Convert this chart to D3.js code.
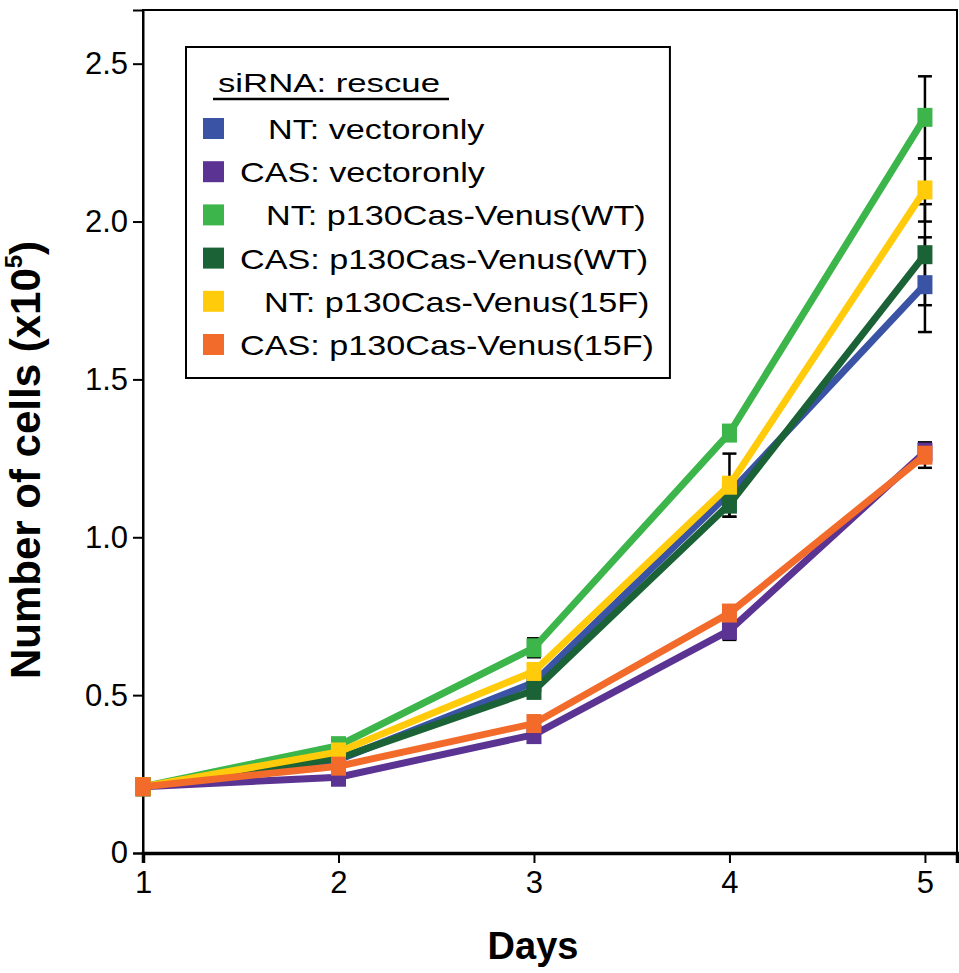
<!DOCTYPE html>
<html>
<head>
<meta charset="utf-8">
<script src="https://cdn.jsdelivr.net/npm/d3@7"></script>
<style>
  body { margin: 0; background: #fff; }
  text { font-family: "Liberation Sans", Arial, Helvetica, sans-serif; }
</style>
</head>
<body>
<svg id="chart" width="959" height="973"></svg>
<script>
// data
var days = [1, 2, 3, 4, 5];
var seriesNames = ["NT: vectoronly", "CAS: vectoronly", "NT: p130Cas-Venus(WT)",
                   "CAS: p130Cas-Venus(WT)", "NT: p130Cas-Venus(15F)", "CAS: p130Cas-Venus(15F)"];
var seriesColors = ["#3a53a4", "#5b3393", "#3cb54b", "#1b6336", "#ffcb0a", "#f26b2b"];
var ntVector   = [0.21, 0.295, 0.54, 1.14, 1.80];
var casVector  = [0.21, 0.24, 0.375, 0.705, 1.27];
var ntWT       = [0.21, 0.34, 0.65, 1.33, 2.33];
var casWT      = [0.21, 0.30, 0.515, 1.105, 1.895];
var nt15F      = [0.21, 0.32, 0.575, 1.165, 2.10];
var cas15F     = [0.21, 0.275, 0.41, 0.76, 1.26];
var errNtVector  = [0, 0, 0, 0, 0.15];
var errCasVector = [0, 0, 0, 0.03, 0.03];
var errNtWT      = [0, 0, 0.03, 0, 0.13];
var errCasWT     = [0, 0, 0, 0.04, 0.16];
var errNt15F     = [0, 0, 0, 0.10, 0.10];
var errCas15F    = [0, 0, 0, 0, 0.04];
var yTicks = [0, 0.5, 1.0, 1.5, 2.0, 2.5];
var yTickLabels = ["0", "0.5", "1.0", "1.5", "2.0", "2.5"];

var allValues = [ntVector, casVector, ntWT, casWT, nt15F, cas15F];
var allErrors = [errNtVector, errCasVector, errNtWT, errCasWT, errNt15F, errCas15F];

var series = seriesNames.map(function(name, i){
    return {
        name: name,
        color: seriesColors[i],
        points: days.map(function(d, j){ return {day: d, v: allValues[i][j], e: allErrors[i][j]}; })
    };
});

var svg = d3.select("#chart");
// note: don't call these top/left, window.top is read-only
var plotL = 143, plotR = 957, plotT = 10, plotB = 853;

var x = d3.scaleLinear().domain([1, 5.164]).range([plotL, plotR]);
var y = d3.scaleLinear().domain([0, 2.67]).range([plotB, plotT]);

//frame
svg.append("rect")
    .attr("x", plotL).attr("y", plotT)
    .attr("width", plotR - plotL).attr("height", plotB - plotT)
    .attr("fill", "none").attr("stroke", "#000").attr("stroke-width", 2);

//axes
var yAxis = d3.axisLeft(y).tickValues(yTicks)
    .tickFormat(function(d, i){ return yTickLabels[i]; })
    .tickSize(10).tickPadding(5);
var gy = svg.append("g").attr("transform", "translate(" + plotL + ",0)").call(yAxis);
gy.select(".domain").attr("stroke-width", 2);
gy.selectAll(".tick line").attr("stroke-width", 2);
gy.selectAll("text").attr("font-size", 31).attr("fill", "#000");

var xAxis = d3.axisBottom(x).tickValues(days).tickFormat(d3.format("d"))
    .tickSize(10).tickPadding(8);
var gx = svg.append("g").attr("transform", "translate(0," + plotB + ")").call(xAxis);
gx.select(".domain").attr("stroke-width", 3.5);
gx.selectAll(".tick line").attr("stroke-width", 2);
gx.selectAll("text").attr("font-size", 31).attr("fill", "#000");

//axis titles
svg.append("text")
    .attr("x", 533).attr("y", 959)
    .attr("text-anchor", "middle")
    .attr("font-size", 38).attr("font-weight", "bold")
    .text("Days");

var ylab = svg.append("text")
    .attr("transform", "translate(40,460) rotate(-90)")
    .attr("text-anchor", "middle")
    .attr("font-size", 42).attr("font-weight", "bold");
ylab.append("tspan").text("Number of cells (x10");
ylab.append("tspan").attr("font-size", 24).attr("dy", -18).text("5");
ylab.append("tspan").attr("dy", 18).text(")");

//error bars first, behind everything
var capW = 7;
series.forEach(function(s){
    var withErr = s.points.filter(function(p){ return p.e > 0; });
    var g = svg.append("g").attr("stroke", "#000").attr("stroke-width", 2.5);
    withErr.forEach(function(p){
        var cx = x(p.day);
        g.append("line").attr("x1", cx).attr("x2", cx)
            .attr("y1", y(p.v + p.e)).attr("y2", y(p.v - p.e));
        [p.v + p.e, p.v - p.e].forEach(function(v){
            g.append("line").attr("x1", cx - capW).attr("x2", cx + capW)
                .attr("y1", y(v)).attr("y2", y(v));
        });
    });
});

//lines and markers
var line = d3.line().x(function(d){ return x(d.day); }).y(function(d){ return y(d.v); });
var mw = 15, mh = 19;
series.forEach(function(s){
    svg.append("path")
        .datum(s.points)
        .attr("d", line)
        .attr("fill", "none")
        .attr("stroke", s.color)
        .attr("stroke-width", 7);
    svg.append("g").selectAll("rect")
        .data(s.points)
        .enter().append("rect")
        .attr("x", function(d){ return x(d.day) - mw/2; })
        .attr("y", function(d){ return y(d.v) - mh/2; })
        .attr("width", mw).attr("height", mh)
        .attr("fill", s.color);
});

//legend - the text in the figure is stretched sideways, so widen it
var stretch = 1.22;
var lg = svg.append("g");
var lgBox = lg.append("rect")
    .attr("x", 186).attr("y", 47)
    .attr("height", 331)
    .attr("fill", "#fff").attr("stroke", "#000").attr("stroke-width", 2);
var title = lg.append("text")
    .attr("x", 218).attr("y", 92)
    .attr("font-size", 26)
    .text("siRNA: rescue");
title.attr("textLength", 222).attr("lengthAdjust", "spacingAndGlyphs");
lg.append("line")
    .attr("x1", 213).attr("x2", 449).attr("y1", 99).attr("y2", 99)
    .attr("stroke", "#000").attr("stroke-width", 2.5);

var rowY = d3.scaleLinear().domain([0, 5]).range([129, 345]);
var textX = [268, 240, 266, 240, 264, 240];
var maxRight = 0;
series.forEach(function(s, i){
    lg.append("rect")
        .attr("x", 203).attr("y", rowY(i) - 11)
        .attr("width", 21).attr("height", 21)
        .attr("fill", s.color);
    var t = lg.append("text")
        .attr("x", textX[i]).attr("y", rowY(i) + 10)
        .attr("font-size", 28)
        .text(s.name);
    var w = t.node().getComputedTextLength() * stretch;
    t.attr("textLength", w).attr("lengthAdjust", "spacingAndGlyphs");
    maxRight = Math.max(maxRight, textX[i] + w);
});
lgBox.attr("width", maxRight + 16 - 186);
</script>
</body>
</html>
